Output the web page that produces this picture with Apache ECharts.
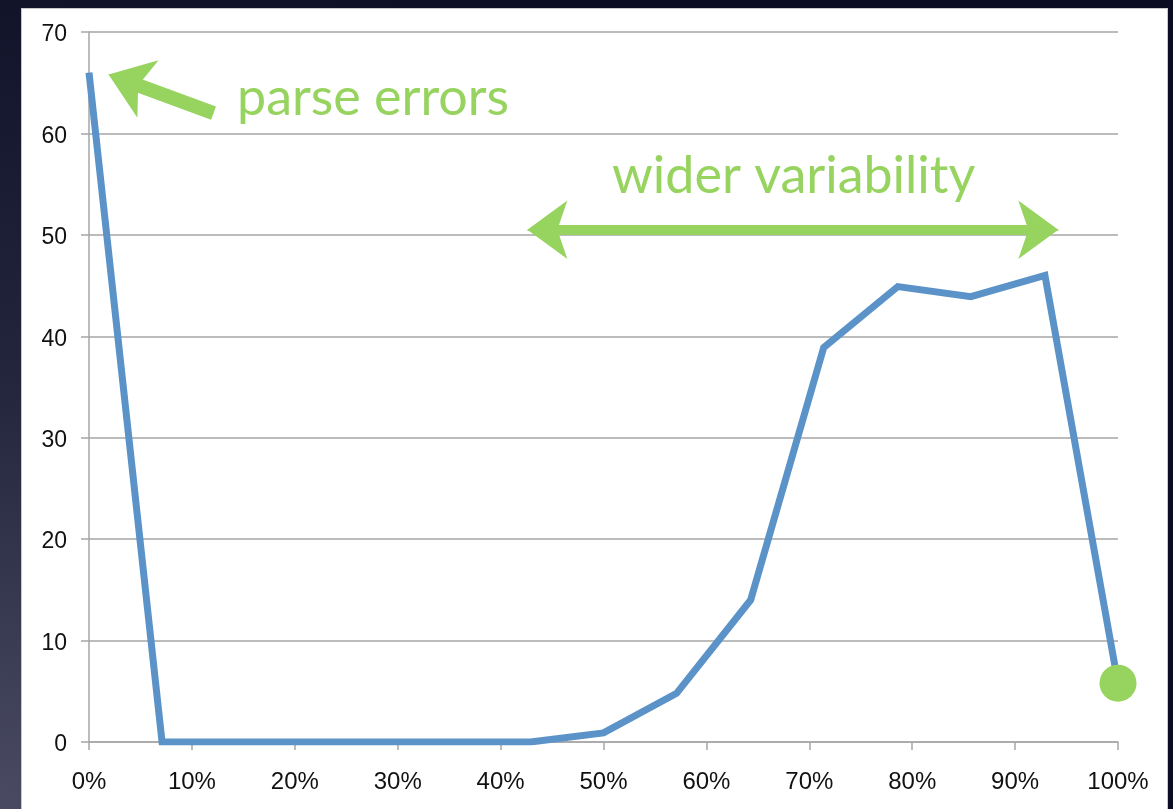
<!DOCTYPE html>
<html>
<head>
<meta charset="utf-8">
<script src="https://cdn.jsdelivr.net/npm/echarts@6/dist/echarts.min.js"></script>
<style>
  html, body { margin: 0; padding: 0; width: 1173px; height: 809px; overflow: hidden; }
  body { background: radial-gradient(ellipse 90% 120% at 0% 100%, #4a4b63 0%, #23253d 45%, #0a0c22 100%); position: relative; }
  .panel { position: absolute; left: 21px; top: 8px; width: 1145px; height: 820px; background: #fff; border: 1px solid #c8c8c8; }
  .chart { position: absolute; left: 0; top: 0; width: 1173px; height: 809px; }
</style>
</head>
<body>
<div class="panel"></div>
<div class="chart"></div>
<script>
// x position of each sample (percent) and the count at that position
var xPercent = [0, 7.1, 14.3, 21.4, 28.6, 35.7, 42.9, 50, 57.1, 64.3, 71.4, 78.6, 85.7, 92.9, 100];
var counts = [66, 0, 0, 0, 0, 0, 0, 0.9, 4.8, 14, 38.9, 44.9, 43.9, 46, 5.8];
// highlighted last point
var dotPoint = [100, 5.8];
// annotation arrows (data coords): tail / tip, shaft stops a little short of the tips
var parseArrow = [[12.1, 62.0], [1.9, 65.8]];
var parseShaft = [[12.1, 62.0], [3.0, 65.4]];
var widerArrow = [[42.6, 50.5], [94.2, 50.5]];
var widerShaft = [[43.8, 50.5], [93.0, 50.5]];

var green = '#97d35f';
var blue = '#5b93c9';

var lineData = [];
for (var i = 0; i < xPercent.length; i++) {
    lineData.push([xPercent[i], counts[i]]);
}

var myChart = echarts.init(document.querySelector('.chart'));

var labelFont = 'Liberation Sans, Arial, sans-serif';
var gray = '#a6a6a6';

var option = {
    animation: false,
    grid: { left: 89, right: 55, top: 32, bottom: 67 },
    xAxis: {
        type: 'value',
        min: 0,
        max: 100,
        interval: 10,
        axisLine: { show: true, lineStyle: { color: gray, width: 1.5 } },
        axisTick: { show: true, length: 8, lineStyle: { color: gray, width: 1.5 } },
        splitLine: { show: false },
        axisLabel: {
            formatter: '{value}%',
            color: '#111',
            fontSize: 24,
            fontFamily: labelFont,
            margin: 28
        }
    },
    yAxis: {
        type: 'value',
        min: 0,
        max: 70,
        interval: 10,
        axisLine: { show: true, lineStyle: { color: gray, width: 1.5 } },
        axisTick: { show: true, length: 8, lineStyle: { color: gray, width: 1.5 } },
        splitLine: { show: true, lineStyle: { color: gray, width: 1.5 } },
        axisLabel: {
            color: '#111',
            fontSize: 23,
            fontFamily: labelFont,
            margin: 22,
            lineHeight: 30,
            verticalAlign: 'top',
            padding: [-12, 0, 0, 0]
        }
    },
    series: [
        {
            type: 'line',
            data: lineData,
            symbol: 'none',
            lineStyle: { color: blue, width: 7, join: 'miter' },
            z: 3
        },
        {
            type: 'scatter',
            data: [dotPoint],
            symbolSize: 37,
            itemStyle: { color: green, opacity: 1 },
            z: 4,
            markLine: {
                silent: true,
                label: { show: false },
                emphasis: { disabled: true },
                lineStyle: { color: green, type: 'solid' },
                data: [
                    // shafts
                    [
                        { coord: parseShaft[0], symbol: 'none', lineStyle: { width: 14 } },
                        { coord: parseShaft[1], symbol: 'none' }
                    ],
                    [
                        { coord: widerShaft[0], symbol: 'none', lineStyle: { width: 10 } },
                        { coord: widerShaft[1], symbol: 'none' }
                    ],
                    // heads
                    [
                        { coord: parseArrow[0], symbol: 'none', lineStyle: { width: 1 } },
                        { coord: parseArrow[1], symbol: 'arrow', symbolSize: [46, 42] }
                    ],
                    [
                        { coord: widerArrow[0], symbol: 'arrow', symbolSize: [44, 40], lineStyle: { width: 1 } },
                        { coord: widerArrow[1], symbol: 'arrow', symbolSize: [44, 40] }
                    ]
                ]
            }
        }
    ],
    graphic: [
        {
            type: 'text',
            left: 237,
            top: 72,
            style: {
                text: 'parse errors',
                fill: green,
                font: '52px Lato, "Open Sans", sans-serif'
            }
        },
        {
            type: 'text',
            left: 612,
            top: 150,
            style: {
                text: 'wider variability',
                fill: green,
                font: '52px Lato, "Open Sans", sans-serif'
            }
        }
    ]
};

myChart.setOption(option);
</script>
</body>
</html>
